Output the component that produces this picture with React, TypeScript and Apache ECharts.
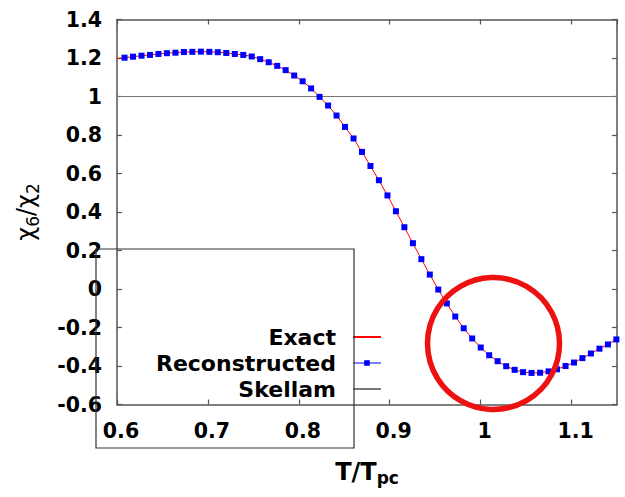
import React, { useEffect, useRef } from "react";
import * as echarts from "echarts";

const FONT = "'DejaVu Sans', 'Liberation Sans', sans-serif";

// T/Tpc sample points
const reconX = [
  0.6083, 0.6176, 0.627, 0.6363, 0.6456, 0.6549, 0.6643, 0.6736, 0.6829, 0.6923,
  0.7016, 0.7109, 0.7202, 0.7296, 0.7389, 0.7482, 0.7575, 0.7669, 0.7762, 0.7855,
  0.7949, 0.8042, 0.8135, 0.8228, 0.8322, 0.8415, 0.8508, 0.8602, 0.8695, 0.8788,
  0.8881, 0.8975, 0.9068, 0.9161, 0.9255, 0.9348, 0.9441, 0.9534, 0.9628, 0.9721,
  0.9814, 0.9907, 1.0001, 1.0094, 1.0187, 1.0281, 1.0374, 1.0467, 1.056, 1.0654,
  1.0747, 1.084, 1.0934, 1.1027, 1.112, 1.1213, 1.1307, 1.14, 1.1493,
];
// chi6/chi2 reconstructed values
const reconY = [
  1.2016, 1.2068, 1.212, 1.216, 1.221, 1.225, 1.2275, 1.231, 1.232, 1.233,
  1.232, 1.23, 1.226, 1.221, 1.216, 1.208, 1.194, 1.178, 1.159, 1.137,
  1.109, 1.079, 1.042, 0.998, 0.953, 0.901, 0.842, 0.782, 0.712, 0.639,
  0.565, 0.486, 0.404, 0.321, 0.238, 0.155, 0.075, -0.003, -0.075, -0.143,
  -0.204, -0.257, -0.304, -0.344, -0.375, -0.401, -0.42, -0.432, -0.436, -0.435,
  -0.428, -0.417, -0.4, -0.382, -0.359, -0.335, -0.31, -0.288, -0.262,
];
// exact curve: starts at the left edge, then follows the same points
const exactStartX = 0.6;
const exactStartY = 1.198;
const exactEndX = 1.15;
const exactEndY = -0.258;
// Skellam baseline
const skellamX = [0.6, 1.15];
const skellamY = [1, 1];

const legendNames = ["Exact", "Reconstructed", "Skellam"];

export default function App() {
  const ref = useRef<HTMLDivElement>(null);
  useEffect(() => {
    if (!ref.current) return;
    const chart = echarts.init(ref.current, undefined, { renderer: "svg" });
    const recon = reconX.map((x, i) => [x, reconY[i]]);
    const exact = [[exactStartX, exactStartY], ...recon, [exactEndX, exactEndY]];
    const skellam = skellamX.map((x, i) => [x, skellamY[i]]);
    const axisLine = { show: true, onZero: false, lineStyle: { color: "#555", width: 1.5 } };
    const axisTick = { show: true, inside: true, length: 5, lineStyle: { color: "#555", width: 1.2 } };
    const tickFont = { fontFamily: FONT, fontWeight: "bold" as const, fontSize: 20.5, color: "#000" };
    chart.setOption({
      animation: false,
      backgroundColor: "#fff",
      grid: { left: 117, top: 19.5, width: 500, height: 385, containLabel: false },
      xAxis: [
        {
          type: "value", min: 0.6, max: 1.15, interval: 0.1, position: "bottom",
          axisLine, axisTick, splitLine: { show: false },
          axisLabel: { ...tickFont, margin: 16, showMaxLabel: false, padding: [0, 0, 0, 8] },
          name: "{m|T/T}{s|pc}", nameLocation: "middle", nameGap: 52,
          nameTextStyle: {
            rich: {
              m: { fontFamily: FONT, fontWeight: "bold", fontSize: 24, color: "#000", lineHeight: 30 },
              s: { fontFamily: FONT, fontWeight: "bold", fontSize: 17, color: "#000", lineHeight: 17, verticalAlign: "bottom" },
            },
          },
        },
        {
          type: "value", min: 0.6, max: 1.15, interval: 0.1, position: "top",
          axisLine, axisTick, splitLine: { show: false }, axisLabel: { show: false },
        },
      ],
      yAxis: [
        {
          type: "value", min: -0.6, max: 1.4, interval: 0.2, position: "left",
          axisLine, axisTick, splitLine: { show: false },
          axisLabel: { ...tickFont, margin: 15 },
          name: "{m|χ}{s|6}{m|/χ}{s|2}", nameLocation: "middle", nameRotate: 90, nameGap: 76,
          nameTextStyle: {
            rich: {
              m: { fontFamily: FONT, fontSize: 24, color: "#000", lineHeight: 30 },
              s: { fontFamily: FONT, fontSize: 17, color: "#000", lineHeight: 17, verticalAlign: "bottom" },
            },
          },
        },
        {
          type: "value", min: -0.6, max: 1.4, interval: 0.2, position: "right",
          axisLine, axisTick, splitLine: { show: false }, axisLabel: { show: false },
        },
      ],
      legend: {
        data: [
          { name: legendNames[0], itemStyle: { opacity: 0 } },
          { name: legendNames[1], lineStyle: { opacity: 1, color: "#0000ff", width: 1 } },
          { name: legendNames[2], itemStyle: { opacity: 0 } },
        ],
        orient: "vertical", align: "right", right: 243, top: 324, padding: 0,
        itemGap: 0, itemWidth: 28, itemHeight: 7, selectedMode: false,
        textStyle: { fontFamily: FONT, fontWeight: "bold", fontSize: 22, color: "#000", lineHeight: 26, padding: [0, 12, 0, 0] },
      },
      series: [
        {
          name: legendNames[2], type: "line", data: skellam, symbol: "none", z: 1,
          lineStyle: { color: "#777", width: 1 }, itemStyle: { color: "#777" },
        },
        {
          name: legendNames[0], type: "line", data: exact, symbol: "none", z: 2,
          lineStyle: { color: "#ff0000", width: 1 }, itemStyle: { color: "#ff0000" },
        },
        {
          name: legendNames[1], type: "line", data: recon, symbol: "rect", symbolSize: 6, z: 3,
          showAllSymbol: true,
          lineStyle: { color: "#0000ff", width: 1, opacity: 0 }, itemStyle: { color: "#0000ff" },
        },
      ],
      graphic: [
        {
          type: "rect", shape: { x: 96, y: 249, width: 258, height: 199 },
          style: { fill: "none", stroke: "#333", lineWidth: 1.2 }, z: 50,
        },
        {
          type: "circle", shape: { cx: 493.5, cy: 343.5, r: 66 },
          style: { fill: "none", stroke: "#ee1111", lineWidth: 5.5 }, z: 100,
        },
      ],
    });
    return () => chart.dispose();
  }, []);
  return <div ref={ref} style={{ position: "absolute", left: 0, top: 0, width: 625, height: 497 }} />;
}
